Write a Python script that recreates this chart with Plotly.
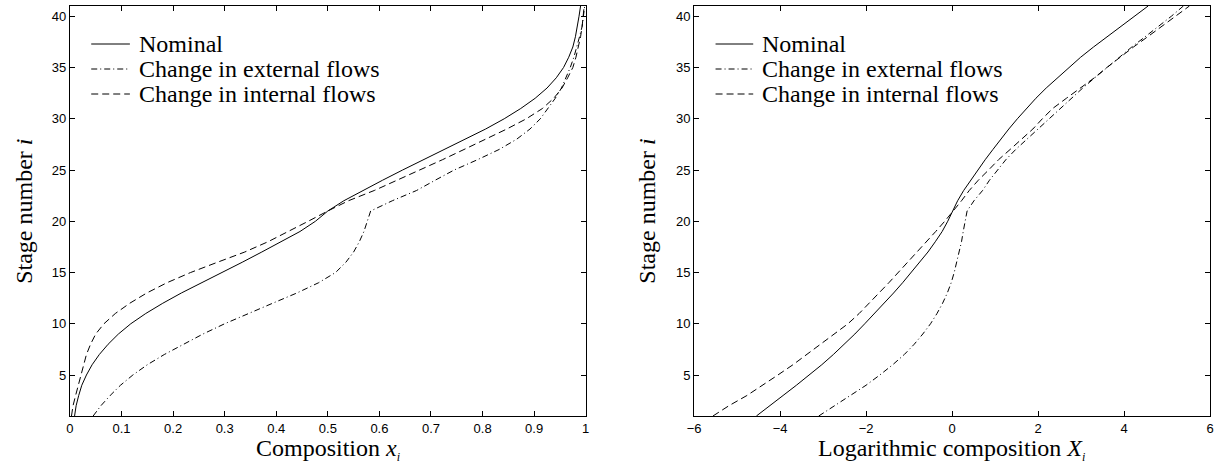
import plotly.graph_objects as go

# Stage numbers along the column (bottom = 1, top = 41)
stages = list(range(1, 42))

# Liquid composition x_i on each stage
composition_nominal = [
    0.009, 0.012, 0.017, 0.023, 0.032, 0.043, 0.057, 0.074, 0.094, 0.118,
    0.147, 0.180, 0.216, 0.256, 0.295, 0.334, 0.372, 0.410, 0.446, 0.476,
    0.500, 0.531, 0.567, 0.606, 0.645, 0.685, 0.727, 0.768, 0.806, 0.842,
    0.874, 0.902, 0.925, 0.943, 0.957, 0.967, 0.975, 0.980, 0.984, 0.987, 0.990,
]
composition_external = [
    0.045, 0.060, 0.078, 0.098, 0.122, 0.150, 0.183, 0.219, 0.258, 0.300,
    0.345, 0.393, 0.440, 0.482, 0.515, 0.535, 0.550, 0.561, 0.570, 0.576,
    0.583, 0.625, 0.672, 0.708, 0.745, 0.790, 0.832, 0.866, 0.892, 0.912,
    0.927, 0.941, 0.953, 0.962, 0.970, 0.977, 0.983, 0.988, 0.993, 0.996, 0.998,
]
composition_internal = [
    0.003, 0.006, 0.011, 0.016, 0.021, 0.026, 0.032, 0.040, 0.050, 0.066,
    0.088, 0.116, 0.149, 0.188, 0.234, 0.286, 0.339, 0.384, 0.424, 0.462,
    0.500, 0.540, 0.590, 0.635, 0.680, 0.722, 0.764, 0.806, 0.847, 0.885,
    0.916, 0.938, 0.954, 0.965, 0.975, 0.981, 0.986, 0.990, 0.993, 0.995, 0.997,
]

# Logarithmic composition X_i on each stage
logcomp_nominal = [
    -4.55, -4.25, -3.93, -3.62, -3.32, -3.03, -2.76, -2.50, -2.26, -2.03,
    -1.80, -1.58, -1.36, -1.15, -0.95, -0.75, -0.56, -0.39, -0.23, -0.10,
    0.02, 0.13, 0.27, 0.43, 0.60, 0.77, 0.95, 1.13, 1.32, 1.52,
    1.73, 1.95, 2.19, 2.45, 2.71, 2.99, 3.29, 3.61, 3.93, 4.24, 4.56,
]
logcomp_external = [
    -3.10, -2.73, -2.36, -2.00, -1.68, -1.38, -1.11, -0.88, -0.68, -0.50,
    -0.35, -0.22, -0.11, -0.02, 0.05, 0.11, 0.17, 0.22, 0.26, 0.30,
    0.35, 0.51, 0.71, 0.87, 1.06, 1.25, 1.48, 1.74, 2.00, 2.26,
    2.50, 2.76, 3.04, 3.32, 3.60, 3.88, 4.18, 4.49, 4.80, 5.10, 5.38,
]
logcomp_internal = [
    -5.56, -5.19, -4.77, -4.40, -4.05, -3.70, -3.38, -3.04, -2.72, -2.42,
    -2.16, -1.92, -1.70, -1.47, -1.25, -1.03, -0.80, -0.60, -0.38, -0.17,
    0.03, 0.22, 0.40, 0.61, 0.85, 1.08, 1.35, 1.62, 1.88, 2.10,
    2.34, 2.66, 2.98, 3.31, 3.60, 3.90, 4.22, 4.55, 4.88, 5.21, 5.52,
]

series_names = ["Nominal", "Change in external flows", "Change in internal flows"]

# Tick labels
comp_ticks = [0, 0.1, 0.2, 0.3, 0.4, 0.5, 0.6, 0.7, 0.8, 0.9, 1]
comp_ticktext = ["0", "0.1", "0.2", "0.3", "0.4", "0.5", "0.6", "0.7", "0.8", "0.9", "1"]
log_ticks = [-6, -4, -2, 0, 2, 4, 6]
stage_ticks = [5, 10, 15, 20, 25, 30, 35, 40]

W, H = 1219, 464
SERIF = "Liberation Serif, Times New Roman, serif"
SANS = "Liberation Sans, Arial, Helvetica, sans-serif"
dash_styles = ["solid", "6px,3px,1px,3px", "7px,4px"]
line_width = 1


def px_x(p):
    return p / W


def px_y(p):
    return 1 - p / H


fig = go.Figure()

left_series = [composition_nominal, composition_external, composition_internal]
right_series = [logcomp_nominal, logcomp_external, logcomp_internal]

for name, vals, dash in zip(series_names, left_series, dash_styles):
    fig.add_trace(go.Scatter(
        x=vals, y=stages, mode="lines", name=name, showlegend=False,
        line=dict(color="black", width=line_width, dash=dash),
        xaxis="x", yaxis="y",
    ))
for name, vals, dash in zip(series_names, right_series, dash_styles):
    fig.add_trace(go.Scatter(
        x=vals, y=stages, mode="lines", name=name, showlegend=False,
        line=dict(color="black", width=line_width, dash=dash),
        xaxis="x2", yaxis="y2",
    ))

axis_common = dict(
    showline=True, linecolor="black", linewidth=1, mirror="ticks",
    ticks="inside", ticklen=5, tickwidth=1, tickcolor="black",
    showgrid=False, zeroline=False,
    tickfont=dict(family=SANS, size=13, color="black"),
)

left_dom = [px_x(63.5), px_x(584)]
right_dom = [px_x(693.3), px_x(1214)]
y_dom = [px_y(416), px_y(6)]

fig.update_layout(
    width=W, height=H,
    margin=dict(l=0, r=0, t=0, b=0),
    paper_bgcolor="white", plot_bgcolor="white",
    showlegend=False,
    xaxis=dict(domain=left_dom, range=[0, 1], tickvals=comp_ticks,
               ticktext=comp_ticktext, anchor="y", **axis_common),
    yaxis=dict(domain=y_dom, range=[1, 41], tickvals=stage_ticks,
               anchor="x", **axis_common),
    xaxis2=dict(domain=right_dom, range=[-6, 6], tickvals=log_ticks,
                anchor="y2", **axis_common),
    yaxis2=dict(domain=y_dom, range=[1, 41], tickvals=stage_ticks,
                anchor="x2", **axis_common),
)

annotations = []
shapes = []

# Axis titles
title_font = dict(family=SERIF, size=24, color="black")
sub_i = "<sub><span style='font-size:12px'><i>i</i></span></sub>"
for cx, text in [(323.75, "Composition <i>x</i>" + sub_i),
                 (953.6, "Logarithmic composition <i>X</i>" + sub_i)]:
    annotations.append(dict(x=px_x(cx), y=px_y(449), xref="paper", yref="paper",
                            text=text, showarrow=False, xanchor="center",
                            yanchor="middle", font=title_font))
for cx in [17.0, 645.5]:
    annotations.append(dict(x=px_x(cx), y=px_y(211), xref="paper", yref="paper",
                            text="Stage number <i>i</i>", textangle=-90,
                            showarrow=False, xanchor="center", yanchor="middle",
                            font=title_font))

# Legend keys and labels inside each panel
row_y = [44, 69, 94]
for key_x0, key_x1, text_x in [(85, 124, 131), (715, 753, 760)]:
    for name, dash, ry in zip(series_names, dash_styles, row_y):
        shapes.append(dict(type="line", xref="paper", yref="paper",
                           x0=px_x(key_x0), x1=px_x(key_x1),
                           y0=px_y(ry), y1=px_y(ry),
                           line=dict(color="black", width=line_width, dash=dash)))
        annotations.append(dict(x=px_x(text_x), y=px_y(ry), xref="paper",
                                yref="paper", text=name, showarrow=False,
                                xanchor="left", yanchor="middle",
                                font=title_font))

fig.update_layout(annotations=annotations, shapes=shapes)

fig.write_html("out.html", config={"displayModeBar": False})
